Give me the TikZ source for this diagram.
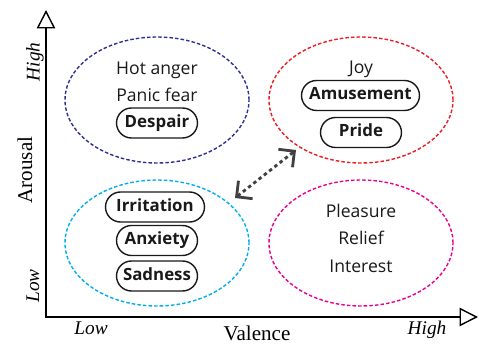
\documentclass[tikz,border=0pt]{standalone}
\usepackage{fontspec}
\setmainfont{Liberation Serif}
\newfontfamily\emofont{Open Sans}
\usetikzlibrary{arrows.meta,shapes.geometric,shapes.misc}
\definecolor{GrpNavy}{RGB}{46,49,146}
\definecolor{GrpRed}{RGB}{237,28,36}
\definecolor{GrpCyan}{RGB}{0,174,239}
\definecolor{GrpMagenta}{RGB}{236,0,140}
\definecolor{ArrGray}{RGB}{64,64,64}

\tikzset{
  quad/.style={ellipse,draw=#1,line width=0.8pt,dash pattern=on 2pt off 1.2pt,
    minimum width=3.68cm,minimum height=2.52cm},
  emo/.style={anchor=base,font=\emofont\fontsize{10}{12}\selectfont,color=black!90},
  tag/.style={rounded rectangle,draw,line width=0.8pt,minimum height=0.60cm,
    font=\emofont\bfseries\fontsize{9.6}{11}\selectfont,color=black!90,
    text height=7pt,text depth=2pt,inner xsep=2pt},
  axislabel/.style={font=\fontsize{12}{14}\selectfont},
  endlabel/.style={font=\itshape\fontsize{11}{13}\selectfont}
}

\begin{document}
\begin{tikzpicture}
  \useasboundingbox (0,0) rectangle (9.58,6.9);

  % axes
  \coordinate (origin) at (0.92,0.56);
  \coordinate (ytip) at (0.92,6.70);
  \coordinate (xtip) at (9.56,0.56);
  \draw[line width=0.8pt,{Triangle[open,length=10.5pt,width=10.5pt,fill=white]}-{Triangle[open,length=10.5pt,width=10.5pt,fill=white]}]
    (ytip) -- (origin) -- (xtip);

  \node[axislabel,rotate=90] (arousal) at (0.50,3.50) {Arousal};
  \node[endlabel,rotate=90] (yhigh) at (0.70,5.66) {High};
  \node[endlabel,rotate=90] (ylow) at (0.66,1.18) {Low};
  \node[axislabel] (valence) at (5.14,0.23) {Valence};
  \node[endlabel] (xlow) at (1.82,0.34) {Low};
  \node[endlabel] (xhigh) at (8.54,0.30) {High};

  % quadrant groups
  \foreach \name/\x/\y/\col in {
    negHigh/3.14/4.90/GrpNavy,
    posHigh/7.22/4.90/GrpRed,
    negLow/3.14/2.04/GrpCyan,
    posLow/7.22/2.04/GrpMagenta%
  }{
    \node[quad=\col] (\name) at (\x,\y) {};
  }

  % plain emotions
  \foreach \name/\x/\y/\txt in {
    hot/3.14/5.40/Hot anger,
    panic/3.14/4.86/Panic fear,
    joy/7.22/5.42/Joy,
    pleasure/7.22/2.54/Pleasure,
    relief/7.22/2.00/Relief,
    interest/7.22/1.44/Interest%
  }{
    \node[emo] (\name) at (\x,\y) {\txt};
  }

  % boxed emotions
  \foreach \name/\x/\y/\w/\txt in {
    despair/3.14/4.44/1.76/Despair,
    amusement/7.21/4.99/2.50/Amusement,
    pride/7.22/4.25/1.76/Pride,
    irritation/3.10/2.76/2.12/Irritation,
    anxiety/3.14/2.09/1.76/Anxiety,
    sadness/3.14/1.38/1.76/Sadness%
  }{
    \node[tag,minimum width=\w cm] (\name) at (\x,\y) {\txt};
  }

  % link between groups
  \coordinate (linkA) at (4.70,2.94);
  \coordinate (linkB) at (5.92,3.90);
  \draw[ArrGray,line width=1.6pt,dash pattern=on 2pt off 1.8pt,
    {Straight Barb[length=6.5pt,width=13pt]}-{Straight Barb[length=6.5pt,width=13pt]}]
    (linkA) -- (linkB);
\end{tikzpicture}
\end{document}
